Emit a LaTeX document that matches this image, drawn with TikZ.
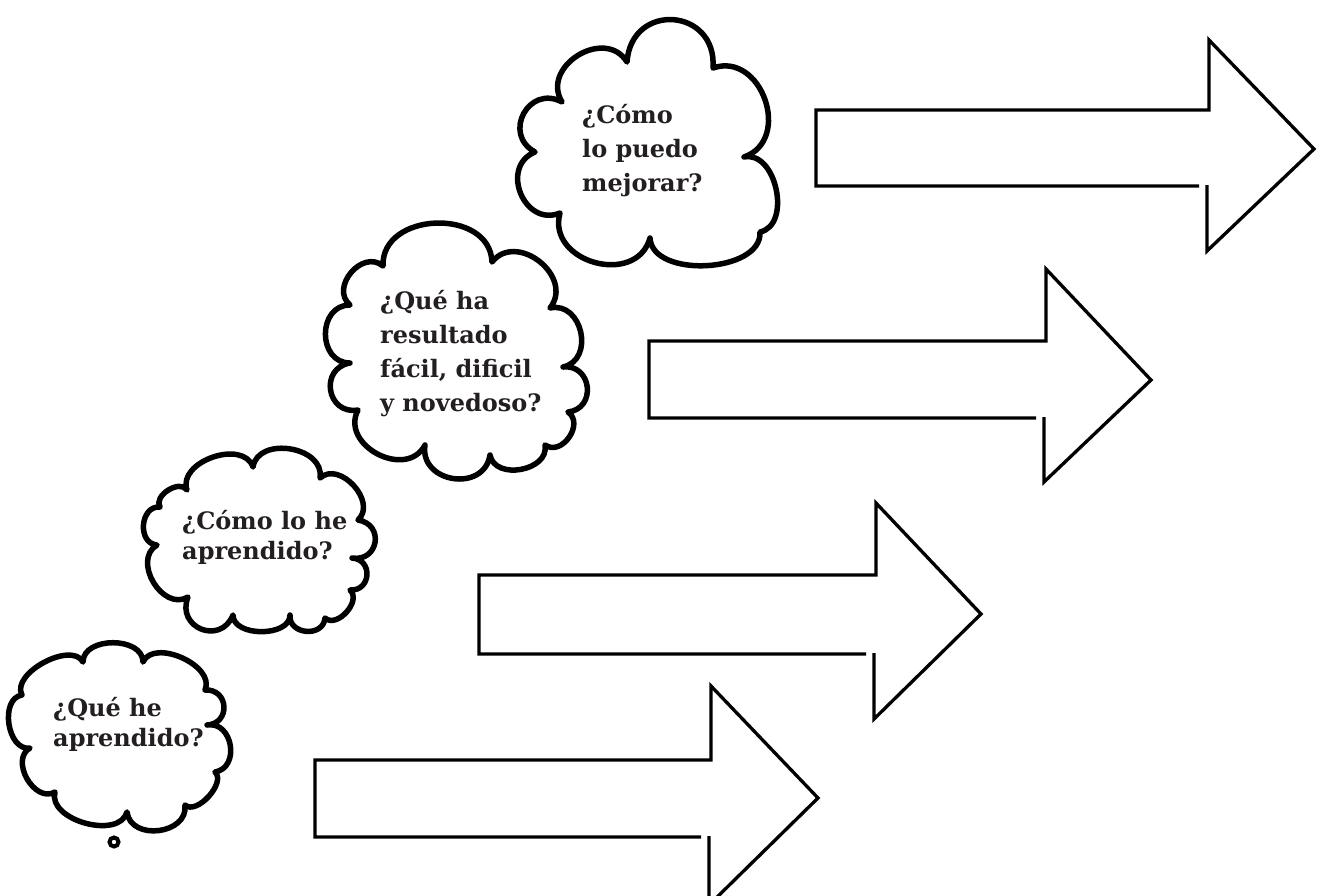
\documentclass[tikz,border=0pt]{standalone}
\usepackage{fontspec}
\setmainfont{DejaVu Serif}
\definecolor{textgray}{HTML}{231F20}
\newcommand\blockarrow[8]{%
  % #1 shaft left, #2 shaft top, #3 shaft bottom, #4 head base x,
  % #5 head top, #6 tip x, #7 tip y, #8 head bottom
  \draw[arrowline] (#4-2,#3-1) -- (#4-2,#8) -- (#6,#7) -- (#4,#5) -- (#4,#2)
     -- (#1,#2) -- (#1,#3) -- (#4-10,#3);}
\begin{document}
\begin{tikzpicture}[x=1pt,y=-1pt,
  cloudline/.style={draw=black, line width=5.5pt, line join=round, line cap=round},
  bp/.style={bend left=90, looseness=#1}, bp/.default=1.3,
  arrowline/.style={draw=black, line width=3.3pt, line join=miter},
  qtext/.style={font=\bfseries\fontsize{24}{#1}\selectfont, text=textgray,
     align=left, inner sep=0pt, anchor=west},
  dotline/.style={draw=black, line width=4pt}]
\useasboundingbox[fill=white] (0,0) rectangle (1326,895);

% arrows
\blockarrow{816}{110}{186}{1209}{40}{1314}{149}{251}
\blockarrow{649}{341}{418}{1046}{269}{1151}{380}{482}
\blockarrow{479}{575}{654}{876}{503}{981}{614}{719}
\blockarrow{315}{760}{837}{711}{686}{818}{798}{905}

% cloud 1
\draw[cloudline] (562,102) to[bp=1.4] (627,62) to[bp=1.8] (713,68)
  to[bp=1.4] (744,157) to[bp=1.1] (760,232) to[bp=0.95] (650,238)
  to[bp=1.4] (560,213) to[bp=1.5] (535,152) to[bp=1.7] (562,102) -- cycle;
% cloud 2
\draw[cloudline] (383,266) to[bp=1.28] (492,262) to[bp=1.38] (550,308)
  to[bp=1.4] (563,367) to[bp=1.65] (568,412) to[bp=1.3] (545,445)
  to[bp=1.2] (490,455) to[bp=1.5] (425,445) to[bp=1.35] (358,410)
  to[bp=1.7] (350,363) to[bp=1.45] (350,305) to[bp=1.35] (383,266) -- cycle;
% cloud 3
\draw[cloudline] (187,490) to[bp=1.1] (253,467) to[bp=1.2] (320,478)
  to[bp=1.2] (358,520) to[bp=1.8] (352,558) to[bp=1.7] (350,590)
  to[bp=1.1] (325,618) to[bp=1.45] (290,615) to[bp=1.0] (233,615)
  to[bp=1.75] (188,597) to[bp=1.25] (157,545) to[bp=1.35] (160,507)
  to[bp=1.06] (187,490) -- cycle;
% cloud 4
\draw[cloudline] (22,695) to[bp=0.9] (83,662) to[bp=1.1] (143,662)
  to[bp=1.0] (205,690) to[bp=1.75] (207,725) to[bp=1.4] (215,772)
  to[bp=0.9] (185,805) to[bp=1.3] (127,812) to[bp=1.0] (55,792)
  to[bp=1.2] (30,748) to[bp=1.1] (22,695) -- cycle;
\draw[dotline] (114,842) circle[radius=4.5pt];

% texts
\node[qtext=34] (t1) at (582,151) {¿Cómo\\lo puedo\\mejorar?};
\node[qtext=34] (t2) at (380,354) {¿Qué ha\\resultado\\fácil, dificil\\y novedoso?};
\node[qtext=30] (t3) at (182,537) {¿Cómo lo he\\aprendido?};
\node[qtext=30] (t4) at (53,724) {¿Qué he\\aprendido?};
\end{tikzpicture}
\end{document}
